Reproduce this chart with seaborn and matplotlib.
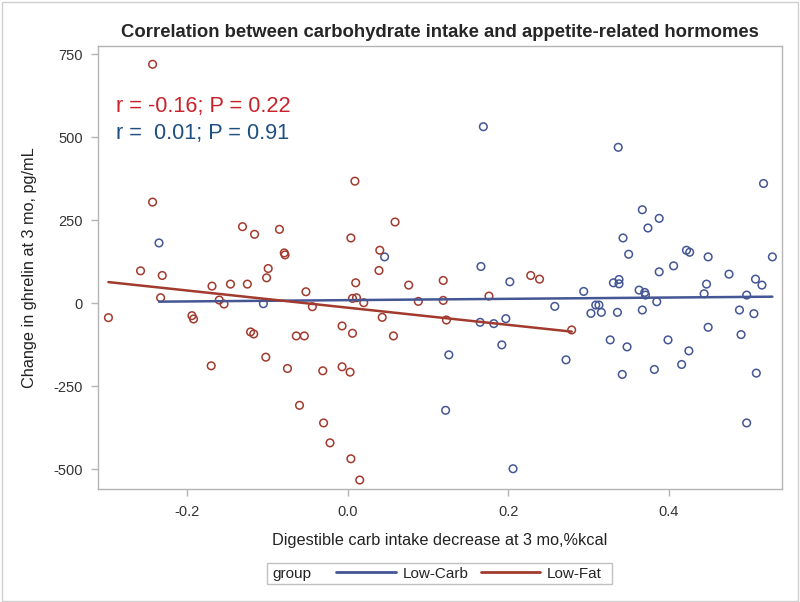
import pandas as pd
import matplotlib
matplotlib.use("Agg")
import matplotlib.pyplot as plt
from matplotlib.lines import Line2D
from matplotlib.patches import Rectangle
import seaborn as sns

# Low-Carb group: carb intake decrease vs change in ghrelin
carb_x = [-0.235, -0.105, 0.169, 0.046, 0.166, 0.202, 0.258, 0.165, 0.182, 0.197,
          0.192, 0.126, 0.272, 0.122, 0.206, 0.350, 0.422, 0.426, 0.449, 0.529,
          0.388, 0.406, 0.475, 0.508, 0.516, 0.294, 0.331, 0.338, 0.338, 0.363,
          0.370, 0.371, 0.447, 0.444, 0.497, 0.309, 0.313, 0.303, 0.316, 0.336,
          0.367, 0.385, 0.488, 0.506, 0.449, 0.327, 0.348, 0.399, 0.425, 0.490,
          0.416, 0.382, 0.342, 0.509, 0.497, 0.337, 0.518, 0.367, 0.388, 0.374,
          0.343]
carb_y = [182, -1, 532, 140, 111, 65, -9, -57, -61, -46,
          -125, -155, -170, -322, -498, 148, 160, 154, 140, 140,
          95, 113, 88, 73, 55, 36, 62, 72, 59, 40,
          33, 25, 58, 29, 25, -5, -5, -30, -27, -27,
          -20, 5, -20, -31, -72, -110, -131, -110, -143, -94,
          -184, -199, -214, -210, -360, 470, 361, 282, 256, 227,
          197]

# Low-Fat group
fat_x = [-0.243, -0.243, -0.131, -0.116, -0.085, -0.079, -0.078, -0.258, -0.099, -0.101,
         -0.231, -0.233, -0.298, -0.169, -0.146, -0.125, -0.160, -0.154, -0.194, -0.192,
         -0.121, -0.117, -0.052, -0.044, -0.064, -0.054, -0.102, -0.170, -0.075, -0.031,
         -0.060, -0.030, -0.022, 0.009, 0.059, 0.004, 0.040, 0.039, 0.010, 0.228,
         0.239, 0.076, 0.119, 0.006, 0.011, 0.020, 0.088, 0.119, 0.176, -0.007,
         0.006, 0.043, 0.057, 0.123, -0.007, 0.003, 0.004, 0.015, 0.279]
fat_y = [720, 305, 231, 208, 223, 152, 146, 98, 105, 77,
         84, 17, -43, 52, 58, 58, 10, -2, -37, -47,
         -86, -92, 35, -10, -98, -98, -162, -188, -196, -203,
         -307, -360, -420, 368, 245, 197, 160, 99, 62, 84,
         73, 55, 69, 15, 17, 2, 6, 9, 22, -68,
         -90, -42, -98, -50, -191, -207, -468, -532, -80]

groups = ["Low-Carb", "Low-Fat"]
x_ticks = [-0.2, 0.0, 0.2, 0.4]
x_tick_labels = ["-0.2", "0.0", "0.2", "0.4"]
y_ticks = [-500, -250, 0, 250, 500, 750]
stats_fat = "r = -0.16; P = 0.22"
stats_carb = "r =  0.01; P = 0.91"

df = pd.concat([
    pd.DataFrame({"carb": carb_x, "ghrelin": carb_y, "group": "Low-Carb"}),
    pd.DataFrame({"carb": fat_x, "ghrelin": fat_y, "group": "Low-Fat"}),
])

sns.set_style("white")
plt.rcParams['font.family'] = ['Liberation Sans', 'DejaVu Sans']
plt.rcParams['axes.unicode_minus'] = False

palette = {"Low-Carb": "#445694", "Low-Fat": "#a23a2e"}
edge = "#b4b4b4"

fig = plt.figure(figsize=(8, 6.02), dpi=100)
ax = fig.add_axes([0.1225, 0.1877, 0.855, 0.7364])

for g in groups:
    sub = df[df.group == g]
    sns.regplot(data=sub, x="carb", y="ghrelin", ax=ax, ci=None, color=palette[g],
                scatter_kws=dict(s=30, facecolors="none", edgecolors=palette[g],
                                 linewidths=1.1, alpha=1, zorder=3),
                line_kws=dict(lw=1.8, zorder=4))

ax.set_xlim(-0.311, 0.541)
ax.set_ylim(-559, 776)
ax.set_xticks(x_ticks)
ax.set_xticklabels(x_tick_labels)
ax.set_yticks(y_ticks)
for s in ax.spines.values():
    s.set_color(edge)
    s.set_linewidth(1)
ax.tick_params(axis="both", direction="out", length=5, width=1, color=edge,
               labelsize=10.5, labelcolor="#333333", bottom=True, left=True)
ax.tick_params(axis="x", pad=6.5)
ax.tick_params(axis="y", pad=6)

ax.set_xlabel("Digestible carb intake decrease at 3 mo,%kcal", fontsize=11.7,
              color="#222222", labelpad=10)
ax.set_ylabel("Change in ghrelin at 3 mo, pg/mL", fontsize=11.7, color="#222222",
              labelpad=12)
ax.set_title("Correlation between carbohydrate intake and appetite-related hormomes",
             fontsize=13.3, fontweight="bold", pad=6)

ax.text(0.027, 0.862, stats_fat, transform=ax.transAxes, fontsize=15.7,
        color="#c8232c", va="center", ha="left")
ax.text(0.027, 0.801, stats_carb, transform=ax.transAxes, fontsize=15.7,
        color="#1f4f80", va="center", ha="left")

# legend box at the bottom
fig.patches.append(Rectangle((0.334, 0.0299), 0.431, 0.0349, transform=fig.transFigure,
                             fill=False, edgecolor="#c0c0c0", lw=1))
fig.text(0.341, 0.0473, "group", fontsize=11, va="center", ha="left", color="#222222")
handles = [Line2D([], [], color=palette[g], lw=2) for g in groups]
fig.legend(handles, groups, loc="center left", bbox_to_anchor=(0.42, 0.0473), ncol=2,
           frameon=False, fontsize=11, handlelength=3.9, handletextpad=0.45,
           columnspacing=0.8, borderpad=0, borderaxespad=0)

fig.patches.append(Rectangle((0.002, 0.002), 0.995, 0.995, transform=fig.transFigure,
                             fill=False, edgecolor="#d0d0d0", lw=1))

fig.savefig("out.png", dpi=100)
